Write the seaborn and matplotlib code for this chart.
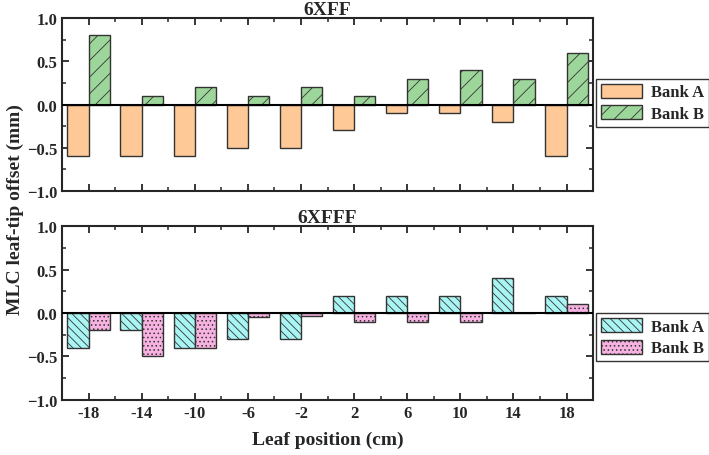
import numpy as np
import pandas as pd
import seaborn as sns
import matplotlib
matplotlib.use('Agg')
from matplotlib import pyplot as plt
from matplotlib.patches import Patch
from matplotlib.ticker import MultipleLocator

positions = [-18, -14, -10, -6, -2, 2, 6, 10, 14, 18]

# 6XFF
xff_bank_a = [-0.6, -0.6, -0.6, -0.5, -0.5, -0.3, -0.1, -0.1, -0.2, -0.6]
xff_bank_b = [0.8, 0.1, 0.2, 0.1, 0.2, 0.1, 0.3, 0.4, 0.3, 0.6]
# 6XFFF
xfff_bank_a = [-0.4, -0.2, -0.4, -0.3, -0.3, 0.2, 0.2, 0.2, 0.4, 0.2]
xfff_bank_b = [-0.2, -0.5, -0.4, -0.05, -0.04, -0.1, -0.1, -0.1, 0.0, 0.1]

sns.set_style('ticks')
plt.rcParams['font.family'] = ['Liberation Serif', 'DejaVu Serif']
plt.rcParams['font.weight'] = 'bold'
plt.rcParams['axes.labelweight'] = 'bold'
plt.rcParams['axes.titleweight'] = 'bold'
plt.rcParams['hatch.linewidth'] = 0.6

fig = plt.figure(figsize=(7.09, 4.56), dpi=100)
ax1 = fig.add_axes([0.0875, 0.579, 0.749, 0.379])
ax2 = fig.add_axes([0.0875, 0.121, 0.749, 0.381])

panels = [
    (ax1, '6XFF', xff_bank_a, xff_bank_b, ['#FEC897', '#9DD69A'], ['', '//'], 0.51),
    (ax2, '6XFFF', xfff_bank_a, xfff_bank_b, ['#A9F5F3', '#F7B2E2'], ['\\\\\\\\', '....'], 0.36),
]

for ax, title, a, b, cols, hatches, legy in panels:
    df = pd.DataFrame({'pos': positions * 2,
                       'val': a + b,
                       'bank': ['Bank A'] * len(a) + ['Bank B'] * len(b)})
    sns.barplot(data=df, x='pos', y='val', hue='bank', native_scale=True,
                palette=cols, edgecolor='#333333', linewidth=1.0,
                saturation=1, ax=ax, legend=False, errorbar=None, width=0.8)
    for cont, h in zip(ax.containers, hatches):
        for p in cont:
            p.set_hatch(h)
    ax.axhline(0, color='black', lw=1.5, zorder=3)
    ax.set_xlim(-20, 20)
    ax.set_ylim(-1, 1)
    ax.set_xticks(positions)
    ax.xaxis.set_minor_locator(MultipleLocator(2))
    ax.set_yticks([-1.0, -0.5, 0.0, 0.5, 1.0])
    ax.yaxis.set_minor_locator(MultipleLocator(0.25))
    ax.tick_params(which='both', direction='in', top=True, right=True, labelsize=12)
    ax.tick_params(which='major', length=5, width=1.3)
    ax.tick_params(which='minor', length=3, width=1.1)
    for s in ax.spines.values():
        s.set_linewidth(1.5)
    ax.set_title(title, fontsize=14, pad=3)
    ax.set_ylabel('')
    handles = [Patch(facecolor=cols[0], edgecolor='#333333', hatch=hatches[0], label='Bank A'),
               Patch(facecolor=cols[1], edgecolor='#333333', hatch=hatches[1], label='Bank B')]
    leg = ax.legend(handles=handles, loc='center left', bbox_to_anchor=(1.005, legy),
                    prop={'size': 12, 'weight': 'bold'}, frameon=True, fancybox=False,
                    edgecolor='black', handlelength=2.5, handleheight=0.9, borderpad=0.3,
                    labelspacing=0.3, handletextpad=0.5, borderaxespad=0)
    leg.get_frame().set_linewidth(1.0)

ax1.set_xlabel('')
ax1.tick_params(labelbottom=False)
ax2.set_xlabel('Leaf position (cm)', fontsize=14, labelpad=7)
ax2.set_xticklabels([str(p) for p in positions])

fig.text(0.022, 0.54, 'MLC leaf-tip offset (mm)', rotation=90, ha='center',
         va='center', fontsize=14, fontweight='bold')

fig.savefig('out.png', dpi=100)
